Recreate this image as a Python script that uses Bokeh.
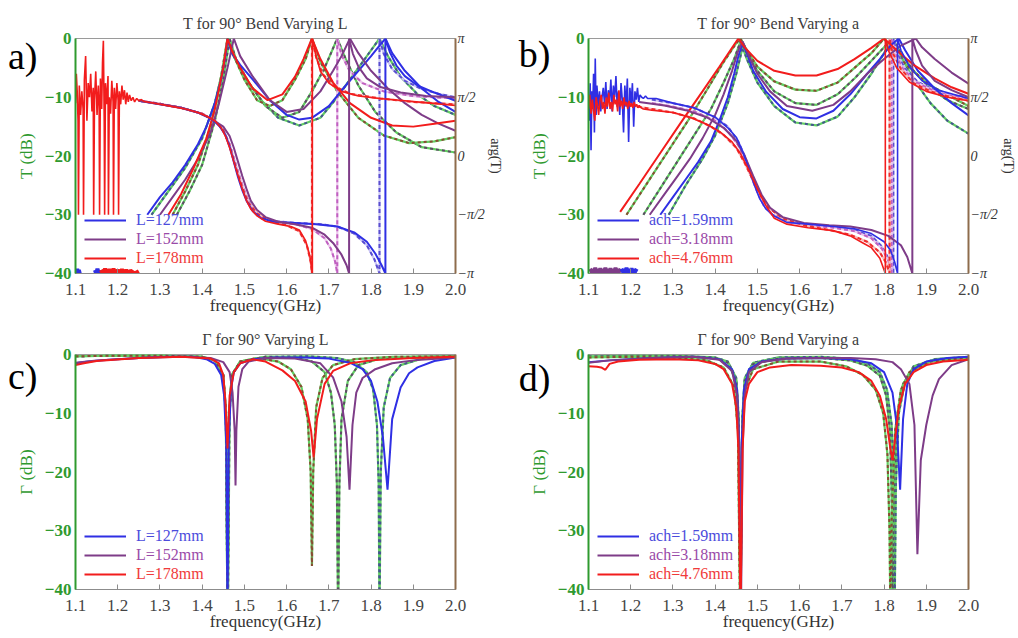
from bokeh.plotting import figure
from bokeh.models import Range1d, LinearAxis, FixedTicker, Legend, LegendItem
from bokeh.layouts import column, row
from bokeh.embed import file_html
from bokeh.resources import INLINE

# ----------------------------------------------------------------- axes / labels
X_TICKS = [1.1, 1.2, 1.3, 1.4, 1.5, 1.6, 1.7, 1.8, 1.9, 2.0]
X_TICK_LABELS = ["1.1", "1.2", "1.3", "1.4", "1.5", "1.6", "1.7", "1.8", "1.9", "2.0"]
DB_TICKS = [-40, -30, -20, -10, 0]
DB_TICK_LABELS = ["\u221240", "\u221230", "\u221220", "\u221210", "0"]
PHASE_TICKS = [-1.0, -0.5, 0.0, 0.5, 1.0]          # in units of pi
PHASE_TICK_LABELS = ["\u2212\u03c0", "\u2212\u03c0/2", "0", "\u03c0/2", "\u03c0"]

TITLES = ["T for 90\u00b0 Bend Varying L", "T for 90\u00b0 Bend Varying a",
          "\u0393 for 90\u00b0 Varying L", "\u0393 for 90\u00b0 Bend Varying a"]
PANEL_TAGS = ["a)", "b)", "c)", "d)"]
LEGEND_L = ["L=127mm", "L=152mm", "L=178mm"]
LEGEND_A = ["ach=1.59mm", "ach=3.18mm", "ach=4.76mm"]

# ----------------------------------------------------------------- panel a : |T| (dB), varying L
A_T127 = [(1.27,-30),(1.30,-27),(1.33,-24.5),(1.36,-21.5),(1.39,-18),(1.41,-15),(1.43,-11),(1.445,-7),
          (1.455,-3),(1.46,0),(1.47,-2.5),(1.49,-4.5),(1.52,-7),(1.56,-10.5),(1.60,-13),(1.63,-13.8),
          (1.66,-13.5),(1.70,-11.5),(1.74,-8),(1.77,-5.5),(1.80,-3),(1.82,-1.2),(1.834,0),(1.85,-2.5),
          (1.88,-5.5),(1.92,-8.5),(1.96,-10.8),(2.0,-12.5)]
A_T152 = [(1.30,-30),(1.33,-27),(1.36,-24),(1.39,-20.5),(1.42,-16),(1.44,-11),(1.46,-5),(1.475,0),
          (1.49,-3),(1.52,-6.5),(1.56,-10.5),(1.60,-12.5),(1.64,-12),(1.68,-9),(1.71,-5.5),(1.73,-3),
          (1.75,0),(1.77,-2.5),(1.80,-5.5),(1.84,-8.5),(1.88,-11),(1.92,-13),(1.96,-14.5),(2.0,-15.7)]
A_T178 = [(1.32,-30),(1.35,-26.5),(1.38,-22),(1.41,-17),(1.43,-12),(1.45,-5),(1.46,0),(1.47,-2),
          (1.49,-5),(1.52,-8.5),(1.555,-10.5),(1.59,-9.5),(1.62,-6.5),(1.64,-3.5),(1.66,0),(1.68,-3.5),
          (1.71,-7.5),(1.75,-11),(1.80,-13.5),(1.85,-14.8),(1.90,-15),(1.95,-14.5),(2.0,-14)]
A_M127 = [(1.28,-30),(1.32,-26),(1.36,-22),(1.40,-17),(1.43,-11),(1.45,-5),(1.462,0),(1.475,-3),
          (1.50,-6.5),(1.54,-10.5),(1.58,-13.5),(1.63,-14.8),(1.68,-13.5),(1.72,-10),(1.76,-6),
          (1.79,-3),(1.82,0),(1.84,-3),(1.87,-6.5),(1.91,-9.5),(1.95,-11.5),(2.0,-13)]
A_M152 = [(1.34,-30),(1.37,-26),(1.40,-21.5),(1.43,-14),(1.45,-7),(1.465,0),(1.48,-3.5),(1.51,-7.5),
          (1.55,-11.5),(1.59,-13.5),(1.63,-12.5),(1.66,-9),(1.69,-5),(1.72,0),(1.74,-3.5),(1.77,-8),
          (1.81,-12.5),(1.86,-16),(1.92,-18.5),(2.0,-19.4)]
A_M178 = [(1.33,-30),(1.36,-26),(1.39,-21.5),(1.42,-15),(1.44,-8.5),(1.46,0),(1.475,-3),(1.50,-7),
          (1.53,-10.5),(1.56,-11.5),(1.59,-10.5),(1.62,-7),(1.645,-3.5),(1.66,0),(1.68,-4),(1.72,-9),
          (1.77,-13.5),(1.83,-16.5),(1.89,-17.8),(1.95,-17.5),(2.0,-16.8)]
# panel a : arg(T) in units of pi (measured, with noisy low-frequency part)
A_P178 = [(1.100,0.45),(1.102,0.70),(1.104,0.55),(1.106,0.30),(1.107,-0.50),(1.109,0.60),(1.112,0.35),
          (1.115,0.55),(1.118,0.40),(1.119,-0.50),(1.121,0.65),(1.124,0.85),(1.127,0.30),(1.130,0.62),
          (1.133,0.50),(1.136,0.70),(1.139,0.38),(1.142,0.58),(1.143,-0.50),(1.145,0.48),(1.148,0.72),
          (1.151,0.35),(1.154,0.60),(1.156,0.42),(1.157,-0.50),(1.159,0.66),(1.162,0.40),(1.164,0.80),
          (1.166,0.98),(1.168,0.30),(1.169,-0.50),(1.171,0.62),(1.174,0.44),(1.177,0.68),(1.178,-0.50),
          (1.180,0.50),(1.183,0.36),(1.186,0.64),(1.189,0.46),(1.190,-0.50),(1.192,0.58),(1.195,0.40),
          (1.198,0.62),(1.201,0.47),(1.202,-0.50),(1.204,0.55),(1.207,0.44),(1.210,0.60),(1.213,0.48),
          (1.216,0.56),(1.219,0.44),(1.222,0.54),(1.225,0.46),(1.228,0.52),(1.232,0.47),(1.236,0.50),
          (1.240,0.46),(1.245,0.49),(1.250,0.47),(1.256,0.48),(1.262,0.465),(1.270,0.46),(1.30,0.44),
          (1.33,0.42),(1.36,0.40),(1.39,0.37),(1.41,0.34),(1.43,0.30),(1.445,0.24),(1.455,0.17),
          (1.465,0.07),(1.475,-0.05),(1.485,-0.17),(1.495,-0.28),(1.505,-0.38),(1.515,-0.45),
          (1.53,-0.51),(1.55,-0.555),(1.58,-0.58),(1.61,-0.60),(1.63,-0.63),(1.645,-0.72),(1.655,-0.85),
          (1.661,-1.0),(1.661,1.0),(1.67,0.85),(1.68,0.72),(1.70,0.62),(1.73,0.55),(1.77,0.51),
          (1.82,0.49),(1.88,0.47),(1.94,0.45),(2.0,0.43)]
A_P127 = [(1.25,0.47),(1.30,0.44),(1.35,0.41),(1.39,0.37),(1.42,0.32),(1.44,0.26),(1.455,0.18),
          (1.465,0.08),(1.475,-0.05),(1.485,-0.18),(1.495,-0.29),(1.505,-0.38),(1.52,-0.47),(1.54,-0.53),
          (1.57,-0.56),(1.62,-0.57),(1.67,-0.58),(1.72,-0.60),(1.76,-0.65),(1.79,-0.73),(1.81,-0.83),
          (1.825,-0.93),(1.834,-1.0),(1.834,1.0),(1.845,0.88),(1.86,0.77),(1.88,0.68),(1.91,0.60),
          (1.95,0.54),(2.0,0.47)]
A_P152 = [(1.25,0.47),(1.30,0.44),(1.35,0.41),(1.39,0.37),(1.42,0.32),(1.45,0.25),(1.465,0.17),
          (1.475,0.07),(1.485,-0.05),(1.495,-0.17),(1.505,-0.28),(1.515,-0.38),(1.53,-0.46),(1.55,-0.52),
          (1.58,-0.56),(1.62,-0.58),(1.66,-0.61),(1.69,-0.67),(1.71,-0.74),(1.73,-0.84),(1.742,-0.93),
          (1.748,-1.0),(1.748,1.0),(1.757,0.87),(1.77,0.76),(1.79,0.66),(1.82,0.59),(1.87,0.54),
          (1.93,0.51),(2.0,0.50)]
A_Q178 = [(1.25,0.47),(1.30,0.445),(1.35,0.41),(1.40,0.36),(1.43,0.30),(1.45,0.22),(1.465,0.09),
          (1.48,-0.10),(1.495,-0.27),(1.51,-0.40),(1.53,-0.49),(1.56,-0.55),(1.60,-0.59),(1.63,-0.64),
          (1.648,-0.76),(1.657,-0.90),(1.66,-1.0),(1.66,1.0),(1.67,0.84),(1.685,0.70),(1.71,0.60),
          (1.75,0.53),(1.82,0.49),(1.90,0.46),(2.0,0.44)]
A_Q152 = [(1.25,0.47),(1.30,0.445),(1.35,0.41),(1.40,0.36),(1.43,0.30),(1.45,0.22),(1.465,0.10),
          (1.48,-0.08),(1.495,-0.25),(1.51,-0.39),(1.53,-0.49),(1.56,-0.55),(1.62,-0.58),(1.66,-0.62),
          (1.69,-0.70),(1.705,-0.79),(1.715,-0.90),(1.72,-1.0),(1.72,1.0),(1.73,0.86),(1.75,0.72),
          (1.78,0.62),(1.83,0.55),(1.90,0.51),(2.0,0.49)]
A_Q127 = [(1.25,0.47),(1.30,0.445),(1.35,0.41),(1.40,0.36),(1.43,0.30),(1.45,0.22),(1.465,0.10),
          (1.48,-0.08),(1.495,-0.25),(1.51,-0.39),(1.53,-0.49),(1.56,-0.55),(1.62,-0.57),(1.68,-0.58),
          (1.72,-0.60),(1.76,-0.66),(1.79,-0.76),(1.808,-0.88),(1.82,-1.0),(1.82,1.0),(1.83,0.87),
          (1.85,0.74),(1.88,0.64),(1.92,0.57),(1.96,0.53),(2.0,0.50)]
A_FLOOR_BLUE1 = [(1.100,-0.97),(1.102,-1.0),(1.104,-0.96),(1.106,-1.0),(1.108,-0.97),(1.110,-1.0)]
A_FLOOR_BLUE2 = [(1.146,-0.97),(1.149,-1.0),(1.152,-0.96),(1.155,-1.0),(1.158,-0.97)]
A_FLOOR_RED = [(1.160,-0.97),(1.165,-1.0),(1.170,-0.96),(1.175,-1.0),(1.180,-0.965),(1.185,-1.0),
               (1.190,-0.96),(1.195,-1.0),(1.200,-0.97),(1.205,-1.0),(1.210,-0.965),(1.215,-1.0),
               (1.220,-0.97),(1.225,-1.0),(1.230,-0.975),(1.240,-1.0),(1.250,-0.98)]

# ----------------------------------------------------------------- panel b : |T| (dB), varying a
B_T159 = [(1.27,-30),(1.30,-27),(1.33,-24),(1.36,-21),(1.39,-17.5),(1.41,-14),(1.43,-10),(1.445,-6),
          (1.455,-3),(1.465,-0.8),(1.475,-2.5),(1.49,-5.5),(1.52,-9),(1.56,-12),(1.60,-13.4),(1.64,-13.6),
          (1.68,-12.3),(1.72,-9.5),(1.76,-6),(1.79,-3.5),(1.815,-1.2),(1.835,0),(1.85,-2),(1.88,-5.5),
          (1.92,-8.5),(1.96,-11),(2.0,-13.1)]
B_T318 = [(1.245,-30),(1.28,-26.5),(1.31,-23.5),(1.34,-20.5),(1.37,-17),(1.40,-13),(1.42,-9.5),
          (1.44,-5.5),(1.455,-2),(1.465,-0.5),(1.48,-3),(1.50,-6),(1.53,-9),(1.57,-11.5),(1.63,-12.3),
          (1.68,-11.3),(1.72,-9),(1.76,-6),(1.80,-3.5),(1.84,-1.2),(1.875,0),(1.89,-1.5),(1.92,-3.5),
          (1.96,-5.8),(2.0,-7.7)]
B_T476 = [(1.175,-29.5),(1.22,-24.8),(1.27,-19.5),(1.32,-14.2),(1.37,-9),(1.41,-4.8),(1.44,-1.6),
          (1.455,0),(1.47,-1.5),(1.50,-3.8),(1.54,-5.5),(1.59,-6.3),(1.64,-6.3),(1.69,-5.2),(1.73,-3.5),
          (1.77,-1.6),(1.80,0),(1.83,-2),(1.87,-4.5),(1.92,-6.8),(1.96,-8.3),(2.0,-9.4)]
B_M159 = [(1.29,-30),(1.33,-25),(1.37,-20.5),(1.40,-16.5),(1.43,-11),(1.45,-6),(1.465,-1.5),
          (1.475,-3.5),(1.50,-7.5),(1.54,-11.5),(1.59,-14.3),(1.64,-14.8),(1.69,-13.3),(1.73,-10),
          (1.77,-6),(1.80,-2.5),(1.82,0),(1.84,-3),(1.87,-7),(1.91,-11),(1.95,-14),(2.0,-16.2)]
B_M318 = [(1.23,-30),(1.27,-25.5),(1.31,-21),(1.35,-16.5),(1.39,-12),(1.42,-7.5),(1.445,-3.5),
          (1.46,-0.5),(1.475,-2.5),(1.50,-5.5),(1.54,-9),(1.59,-11),(1.64,-11.3),(1.69,-9.5),
          (1.73,-6.8),(1.77,-3.8),(1.80,-1.5),(1.82,0),(1.84,-2.5),(1.87,-5.5),(1.91,-8.5),
          (1.95,-10.5),(2.0,-12)]
B_M476 = [(1.19,-30),(1.24,-24.5),(1.29,-19),(1.34,-13.5),(1.38,-8.8),(1.42,-4),(1.45,-0.8),(1.46,0),
          (1.475,-2),(1.50,-4.8),(1.54,-7.3),(1.59,-8.7),(1.64,-8.9),(1.69,-7.5),(1.73,-5),(1.77,-2.5),
          (1.80,0),(1.82,-2),(1.86,-5),(1.91,-8),(1.96,-10),(2.0,-11.5)]
B_P159 = [(1.100,0.45),(1.102,0.30),(1.104,0.62),(1.106,0.05),(1.108,0.55),(1.110,0.40),(1.112,0.70),
          (1.114,0.20),(1.116,0.83),(1.118,0.35),(1.120,0.60),(1.123,0.42),(1.126,0.55),(1.129,0.38),
          (1.132,0.50),(1.135,0.58),(1.138,0.44),(1.141,0.63),(1.144,0.40),(1.147,0.56),(1.150,0.47),
          (1.153,0.65),(1.156,0.38),(1.159,0.60),(1.162,0.50),(1.165,0.68),(1.168,0.42),(1.171,0.55),
          (1.174,0.35),(1.177,0.62),(1.180,0.48),(1.183,0.20),(1.186,0.60),(1.189,0.42),(1.192,0.66),
          (1.195,0.12),(1.198,0.58),(1.201,0.45),(1.204,0.62),(1.207,0.25),(1.210,0.55),(1.213,0.48),
          (1.216,0.58),(1.219,0.46),(1.222,0.52),(1.226,0.50),(1.230,0.49),(1.235,0.51),(1.240,0.49),
          (1.26,0.49),(1.30,0.45),(1.35,0.41),(1.40,0.33),(1.43,0.24),(1.45,0.16),(1.465,0.04),
          (1.475,-0.06),(1.49,-0.22),(1.505,-0.36),(1.52,-0.45),(1.54,-0.51),(1.57,-0.565),(1.62,-0.58),
          (1.68,-0.60),(1.73,-0.62),(1.77,-0.66),(1.80,-0.73),(1.815,-0.80),(1.825,-0.90),(1.832,-1.0),
          (1.832,1.0),(1.84,0.90),(1.86,0.76),(1.89,0.64),(1.93,0.56),(1.97,0.52),(2.0,0.49)]
B_P476 = [(1.100,0.40),(1.103,0.52),(1.106,0.36),(1.109,0.48),(1.112,0.38),(1.115,0.30),(1.118,0.50),
          (1.121,0.44),(1.124,0.35),(1.127,0.47),(1.130,0.52),(1.133,0.40),(1.136,0.46),(1.139,0.36),
          (1.142,0.50),(1.145,0.42),(1.148,0.54),(1.151,0.40),(1.154,0.46),(1.157,0.38),(1.160,0.52),
          (1.163,0.44),(1.166,0.48),(1.169,0.38),(1.172,0.56),(1.175,0.42),(1.178,0.47),(1.181,0.40),
          (1.184,0.50),(1.187,0.43),(1.190,0.46),(1.193,0.40),(1.196,0.47),(1.199,0.42),(1.202,0.45),
          (1.205,0.41),(1.208,0.46),(1.211,0.42),(1.214,0.44),(1.217,0.41),(1.220,0.43),(1.225,0.41),
          (1.230,0.40),(1.25,0.39),(1.30,0.37),(1.34,0.33),(1.38,0.27),(1.41,0.21),(1.44,0.12),
          (1.46,0.02),(1.48,-0.12),(1.50,-0.28),(1.52,-0.42),(1.54,-0.53),(1.57,-0.58),(1.62,-0.61),
          (1.68,-0.635),(1.72,-0.68),(1.75,-0.74),(1.77,-0.78),(1.79,-0.87),(1.803,-1.0),(1.803,1.0),
          (1.81,0.90),(1.83,0.75),(1.86,0.63),(1.90,0.55),(1.95,0.50),(2.0,0.47)]
B_P318 = [(1.22,0.46),(1.28,0.43),(1.33,0.39),(1.38,0.33),(1.42,0.24),(1.45,0.13),(1.47,0.0),
          (1.49,-0.17),(1.51,-0.33),(1.53,-0.44),(1.56,-0.52),(1.61,-0.57),(1.67,-0.59),(1.72,-0.60),
          (1.77,-0.63),(1.81,-0.68),(1.84,-0.76),(1.855,-0.86),(1.867,-1.0),(1.867,1.0),(1.875,0.90),
          (1.89,0.77),(1.92,0.64),(1.96,0.56),(2.0,0.50)]
B_Q159 = [(1.25,0.48),(1.30,0.45),(1.35,0.41),(1.40,0.33),(1.43,0.25),(1.455,0.12),(1.47,0.0),
          (1.485,-0.15),(1.50,-0.30),(1.515,-0.42),(1.535,-0.50),(1.57,-0.56),(1.62,-0.58),(1.68,-0.60),
          (1.73,-0.63),(1.77,-0.68),(1.795,-0.77),(1.81,-0.87),(1.822,-1.0),(1.822,1.0),(1.83,0.88),
          (1.85,0.74),(1.88,0.63),(1.92,0.56),(1.96,0.52),(2.0,0.50)]
B_Q318 = [(1.25,0.45),(1.30,0.42),(1.35,0.38),(1.40,0.30),(1.43,0.21),(1.455,0.09),(1.47,-0.03),
          (1.485,-0.17),(1.50,-0.31),(1.515,-0.42),(1.535,-0.50),(1.57,-0.56),(1.62,-0.59),(1.68,-0.61),
          (1.73,-0.64),(1.77,-0.70),(1.795,-0.79),(1.81,-0.89),(1.818,-1.0),(1.818,1.0),(1.826,0.88),
          (1.845,0.74),(1.875,0.63),(1.92,0.55),(1.96,0.51),(2.0,0.49)]
B_Q476 = [(1.20,0.43),(1.25,0.40),(1.30,0.37),(1.35,0.32),(1.39,0.25),(1.42,0.18),(1.45,0.07),
          (1.47,-0.06),(1.49,-0.21),(1.51,-0.35),(1.53,-0.45),(1.56,-0.53),(1.61,-0.59),(1.67,-0.63),
          (1.72,-0.67),(1.76,-0.73),(1.79,-0.82),(1.805,-0.91),(1.813,-1.0),(1.813,1.0),(1.82,0.88),
          (1.84,0.74),(1.87,0.62),(1.91,0.55),(1.96,0.50),(2.0,0.47)]
B_FLOOR_PURPLE = [(1.104,-0.96),(1.110,-1.0),(1.116,-0.955),(1.122,-1.0),(1.128,-0.96),(1.134,-1.0),
                  (1.140,-0.955),(1.146,-1.0),(1.152,-0.96),(1.158,-1.0),(1.164,-0.955),(1.170,-1.0),
                  (1.176,-0.96)]
B_FLOOR_BLUE = [(1.178,-0.96),(1.184,-1.0),(1.190,-0.955),(1.196,-1.0),(1.202,-0.96),(1.208,-1.0),
                (1.214,-0.96)]

# ----------------------------------------------------------------- panel c : Gamma (dB), varying L
C_G127 = [(1.10,-1.5),(1.13,-1.2),(1.18,-0.9),(1.25,-0.6),(1.32,-0.4),(1.38,-0.4),(1.41,-0.8),
          (1.43,-1.6),(1.445,-3.5),(1.452,-7),(1.457,-15),(1.460,-45),(1.463,-15),(1.468,-6),
          (1.475,-3),(1.49,-1.5),(1.52,-0.8),(1.57,-0.5),(1.64,-0.5),(1.70,-0.7),(1.75,-1.4),
          (1.78,-2.5),(1.80,-4.5),(1.815,-8),(1.828,-14),(1.839,-23),(1.85,-11),(1.87,-5.6),
          (1.89,-3.2),(1.91,-2.2),(1.95,-1.1),(2.0,-0.5)]
C_G152 = [(1.10,-1.4),(1.15,-1.0),(1.25,-0.6),(1.35,-0.4),(1.42,-0.6),(1.45,-1.3),(1.465,-3),
          (1.472,-6.5),(1.477,-13),(1.479,-22.3),(1.481,-13),(1.486,-5.5),(1.495,-2.5),(1.51,-1.2),
          (1.55,-0.6),(1.62,-0.7),(1.68,-1.5),(1.71,-3.9),(1.73,-8),(1.742,-14),(1.749,-23),
          (1.756,-12),(1.765,-6.5),(1.78,-4),(1.81,-2.5),(1.85,-1.5),(1.90,-1.0),(2.0,-0.5)]
C_G178 = [(1.10,-1.8),(1.12,-1.5),(1.15,-1.1),(1.25,-0.6),(1.35,-0.4),(1.42,-0.7),(1.44,-1.5),
          (1.45,-3.5),(1.455,-8),(1.46,-16),(1.465,-7),(1.475,-3),(1.49,-1.5),(1.52,-0.8),(1.55,-1.2),
          (1.59,-2.7),(1.62,-4.5),(1.645,-8),(1.658,-13),(1.664,-17.5),(1.672,-11),(1.69,-5),
          (1.71,-2.8),(1.75,-1.5),(1.80,-1.0),(1.90,-0.6),(2.0,-0.4)]
C_M127 = [(1.10,-0.3),(1.20,-0.2),(1.30,-0.2),(1.40,-0.4),(1.43,-1),(1.45,-3.5),(1.456,-10),
          (1.460,-45),(1.464,-10),(1.47,-3.5),(1.49,-1.2),(1.55,-0.4),(1.65,-0.3),(1.72,-0.6),
          (1.76,-1.3),(1.79,-3),(1.805,-6),(1.814,-12),(1.818,-22),(1.820,-45),(1.823,-20),(1.83,-9),
          (1.845,-4),(1.87,-1.8),(1.92,-0.7),(2.0,-0.3)]
C_M152 = [(1.10,-0.3),(1.20,-0.2),(1.30,-0.2),(1.40,-0.4),(1.43,-1),(1.45,-3.5),(1.457,-10),
          (1.461,-45),(1.465,-10),(1.471,-3.5),(1.49,-1.2),(1.55,-0.4),(1.62,-0.5),(1.66,-1.2),
          (1.69,-3),(1.705,-6.5),(1.714,-12),(1.719,-22),(1.722,-45),(1.725,-22),(1.73,-11),
          (1.745,-4.5),(1.77,-1.8),(1.82,-0.7),(1.90,-0.4),(2.0,-0.3)]
C_M178 = [(1.10,-0.3),(1.20,-0.2),(1.30,-0.2),(1.40,-0.4),(1.43,-1),(1.45,-3.5),(1.456,-10),
          (1.460,-45),(1.464,-10),(1.47,-3.5),(1.49,-1.2),(1.53,-0.6),(1.58,-1.2),(1.61,-2.5),
          (1.635,-5.5),(1.65,-11),(1.657,-20),(1.660,-36),(1.663,-20),(1.67,-9),(1.685,-4),(1.71,-1.8),
          (1.76,-0.8),(1.85,-0.4),(2.0,-0.3)]

# ----------------------------------------------------------------- panel d : Gamma (dB), varying a
D_G159 = [(1.10,-1.3),(1.15,-1.0),(1.25,-0.6),(1.35,-0.4),(1.41,-0.8),(1.44,-2.5),(1.452,-6),
          (1.457,-15),(1.460,-45),(1.463,-15),(1.468,-6),(1.48,-2.5),(1.51,-1.2),(1.57,-0.7),
          (1.65,-0.6),(1.72,-0.8),(1.77,-1.5),(1.80,-3),(1.82,-6.5),(1.83,-12),(1.838,-23),(1.845,-11),
          (1.855,-5),(1.87,-2.5),(1.90,-1.2),(1.95,-0.6),(2.0,-0.4)]
D_G318 = [(1.10,-1.4),(1.15,-1.0),(1.25,-0.6),(1.35,-0.4),(1.41,-0.9),(1.44,-2.8),(1.452,-7),
          (1.457,-16),(1.461,-45),(1.465,-16),(1.47,-7),(1.48,-3),(1.51,-1.3),(1.57,-0.7),(1.65,-0.6),
          (1.72,-0.6),(1.78,-0.8),(1.82,-1.3),(1.84,-2.5),(1.86,-5),(1.872,-12),(1.879,-34),
          (1.887,-18),(1.90,-12),(1.915,-7),(1.93,-4.2),(1.96,-1.8),(2.0,-0.8)]
D_G476 = [(1.10,-2.0),(1.12,-2.1),(1.13,-2.2),(1.14,-2.6),(1.15,-1.6),(1.17,-1.2),(1.22,-0.9),
          (1.30,-0.8),(1.36,-1.0),(1.40,-1.6),(1.42,-2.5),(1.44,-5),(1.45,-9),(1.455,-16),(1.460,-45),
          (1.465,-16),(1.47,-8),(1.48,-5),(1.50,-3),(1.53,-2.2),(1.58,-1.8),(1.65,-1.9),(1.70,-2.2),
          (1.74,-3),(1.77,-4.5),(1.79,-7),(1.805,-11),(1.815,-16),(1.82,-18),(1.825,-15),(1.835,-9),
          (1.85,-5),(1.87,-3),(1.90,-1.8),(1.94,-1.2),(2.0,-0.9)]
D_M159 = [(1.10,-0.3),(1.20,-0.2),(1.30,-0.2),(1.40,-0.5),(1.43,-1.2),(1.45,-4),(1.456,-11),
          (1.460,-45),(1.464,-11),(1.47,-4),(1.49,-1.4),(1.55,-0.5),(1.65,-0.4),(1.72,-0.7),(1.76,-1.5),
          (1.79,-3),(1.807,-6),(1.818,-12),(1.823,-22),(1.825,-45),(1.828,-22),(1.835,-10),(1.85,-4.5),
          (1.87,-2),(1.92,-0.8),(2.0,-0.4)]
D_M318 = [(1.10,-0.4),(1.20,-0.3),(1.30,-0.3),(1.40,-0.6),(1.43,-1.4),(1.45,-4.5),(1.456,-12),
          (1.460,-45),(1.464,-12),(1.47,-4.5),(1.49,-1.6),(1.55,-0.7),(1.65,-0.6),(1.72,-1.0),
          (1.76,-1.9),(1.79,-3.6),(1.805,-7),(1.814,-13),(1.818,-24),(1.820,-45),(1.823,-24),
          (1.83,-11),(1.845,-5),(1.87,-2.3),(1.92,-0.9),(2.0,-0.5)]
D_M476 = [(1.10,-0.5),(1.20,-0.4),(1.30,-0.5),(1.38,-1.0),(1.42,-2.2),(1.445,-5.5),(1.454,-13),
          (1.459,-45),(1.464,-13),(1.47,-6),(1.49,-2.5),(1.55,-1.2),(1.65,-1.2),(1.71,-2.0),
          (1.75,-3.5),(1.78,-6),(1.798,-10),(1.808,-17),(1.813,-30),(1.815,-45),(1.818,-28),
          (1.826,-13),(1.84,-6),(1.86,-3),(1.91,-1.2),(2.0,-0.5)]

# ----------------------------------------------------------------- styling
SERIF = "Liberation Serif"
BLUE, PURPLE, RED = "#2f2fe4", "#7e3c88", "#f21c1c"
BLUE_TXT, PURPLE_TXT, RED_TXT = "#4b4bdc", "#9a4aa8", "#f03a3a"
DARK = {"b": "#45558f", "p": "#5e4a66", "r": "#8a4a32"}
MODEL_GREEN = "#62cf62"
PH_LIGHT = {"b": "#c9c4f4", "p": "#ecc6ec", "r": "#f8b9b9"}
PH_COLOR = {"b": "#5a4ed0", "p": "#c060c0", "r": "#ee2e2e"}
AXIS_GREEN = "#2f9a2f"
LABEL_GREEN_BG = "#c4f4c4"
PEACH_BG = "#fbd7b4"
BROWN = "#8e6c4c"


def unzip(pairs):
    return [a for a, _ in pairs], [b for _, b in pairs]


def set_if(model, **kw):
    props = model.properties()
    for k, v in kw.items():
        if k in props:
            setattr(model, k, v)


def make_panel(title, ylabel, tag, tag_y, border_l, border_r, border_t, border_b, phase):
    p = figure(frame_width=380, frame_height=235, x_range=Range1d(1.1, 2.0), y_range=Range1d(-40, 0),
               output_backend="svg", toolbar_location=None,
               min_border_left=border_l, min_border_right=border_r,
               min_border_top=border_t, min_border_bottom=border_b)
    p.title.text = title
    p.title.align = "center"
    p.title.text_font = SERIF
    p.title.text_font_size = "16px"
    p.title.text_font_style = "normal"
    p.title.text_color = "#3c3c3c"
    set_if(p.title, standoff=14)
    p.grid.visible = False
    p.outline_line_color = "#9a9a9a"
    p.background_fill_color = "white"
    p.border_fill_color = "white"

    xa = p.xaxis[0]
    xa.ticker = FixedTicker(ticks=X_TICKS)
    xa.major_label_overrides = dict(zip(X_TICKS, X_TICK_LABELS))
    xa.axis_label = "frequency(GHz)"
    xa.axis_label_text_font = SERIF
    xa.axis_label_text_font_size = "17px"
    xa.axis_label_text_font_style = "normal"
    xa.axis_label_text_color = "#333333"
    xa.axis_label_standoff = -2
    xa.major_label_text_font = SERIF
    xa.major_label_text_font_size = "17px"
    xa.major_label_text_color = "#444444"
    xa.major_label_standoff = 10
    xa.axis_line_color = "#8c8c8c"
    xa.major_tick_in = 5
    xa.major_tick_out = 0
    xa.major_tick_line_color = "#8c8c8c"
    xa.minor_tick_line_color = None

    ya = p.yaxis[0]
    ya.ticker = FixedTicker(ticks=DB_TICKS)
    ya.major_label_overrides = dict(zip(DB_TICKS, DB_TICK_LABELS))
    ya.axis_label = ylabel
    ya.axis_label_text_font = SERIF
    ya.axis_label_text_font_size = "17px"
    ya.axis_label_text_font_style = "normal"
    ya.axis_label_text_color = AXIS_GREEN
    ya.axis_label_standoff = 6
    ya.major_label_text_font = SERIF
    ya.major_label_text_font_size = "17px"
    ya.major_label_text_font_style = "bold"
    ya.major_label_text_color = AXIS_GREEN
    ya.major_label_standoff = 4
    ya.axis_line_color = AXIS_GREEN
    ya.axis_line_width = 2
    ya.major_tick_in = 0
    ya.major_tick_out = 0
    ya.minor_tick_line_color = None
    set_if(ya, major_label_background_fill_color=LABEL_GREEN_BG,
           axis_label_background_fill_color=LABEL_GREEN_BG)

    # panel tag "a)" etc. drawn as the single label of an outer, line-less left axis
    ta = LinearAxis(ticker=FixedTicker(ticks=[tag_y]), major_label_overrides={tag_y: tag})
    ta.major_label_text_font = SERIF
    ta.major_label_text_font_size = "38px"
    ta.major_label_text_color = "black"
    ta.major_label_standoff = -30
    ta.axis_line_color = None
    ta.major_tick_line_color = None
    ta.minor_tick_line_color = None
    p.add_layout(ta, "left")

    if phase:
        p.extra_y_ranges = {"phase": Range1d(-1, 1)}
        ra = LinearAxis(y_range_name="phase", ticker=FixedTicker(ticks=PHASE_TICKS),
                        major_label_overrides=dict(zip(PHASE_TICKS, PHASE_TICK_LABELS)),
                        axis_label="arg(T)")
        ra.axis_label_text_font = SERIF
        ra.axis_label_text_font_size = "14px"
        ra.axis_label_text_font_style = "normal"
        ra.axis_label_text_color = "#333333"
        ra.axis_label_standoff = 0
        ra.major_label_text_font = SERIF
        ra.major_label_text_font_size = "14px"
        ra.major_label_text_font_style = "italic"
        ra.major_label_text_color = "#333333"
        ra.major_label_standoff = 2
        ra.major_tick_in = 0
        ra.major_tick_out = 0
        ra.minor_tick_line_color = None
        ra.axis_line_color = BROWN
        ra.axis_line_width = 2
        set_if(ra, major_label_background_fill_color=PEACH_BG,
               axis_label_background_fill_color=PEACH_BG)
        p.add_layout(ra, "right")
    else:
        ra = LinearAxis(ticker=FixedTicker(ticks=[]), major_label_text_font_size="0px")
        ra.axis_line_color = BROWN
        ra.axis_line_width = 2
        ra.major_tick_in = 0
        ra.major_tick_out = 0
        ra.minor_tick_line_color = None
        p.add_layout(ra, "right")
    return p


def meas(p, pairs, color, rng="default", width=2.0):
    f, v = unzip(pairs)
    return p.line(f, v, line_color=color, line_width=width, y_range_name=rng)


def model(p, pairs, key):
    f, v = unzip(pairs)
    p.line(f, v, line_color=MODEL_GREEN, line_width=2.2)
    p.line(f, v, line_color=DARK[key], line_width=2.0, line_dash="3 3")


def model_phase(p, pairs, key):
    f, v = unzip(pairs)
    p.line(f, v, line_color=PH_LIGHT[key], line_width=2.2, y_range_name="phase")
    p.line(f, v, line_color=PH_COLOR[key], line_width=2.0, line_dash="4 3", y_range_name="phase")


def legend(p, renderers, labels, colors):
    rows_bottom = [44, 25, 6]
    for r, lab, col, yb in zip(renderers, labels, colors, rows_bottom):
        lg = Legend(items=[LegendItem(label=lab, renderers=[r])], location=(9, yb),
                    background_fill_alpha=0, border_line_alpha=0,
                    label_text_font=SERIF, label_text_font_size="16px", label_text_color=col,
                    glyph_width=42, glyph_height=16, label_height=16, padding=0, margin=0,
                    spacing=0, label_standoff=10)
        p.add_layout(lg)


# ----------------------------------------------------------------- panel a
pa = make_panel(TITLES[0], "T (dB)", PANEL_TAGS[0], -3.0, 75, 54, 38, 47, True)
model(pa, A_M127, "b"); model(pa, A_M152, "p"); model(pa, A_M178, "r")
model_phase(pa, A_Q127, "b"); model_phase(pa, A_Q152, "p"); model_phase(pa, A_Q178, "r")
ra1 = meas(pa, A_T127, BLUE); ra2 = meas(pa, A_T152, PURPLE); ra3 = meas(pa, A_T178, RED)
meas(pa, A_P127, BLUE, "phase"); meas(pa, A_P152, PURPLE, "phase"); meas(pa, A_P178, RED, "phase", 1.6)
meas(pa, A_FLOOR_BLUE1, BLUE, "phase", 4); meas(pa, A_FLOOR_BLUE2, BLUE, "phase", 4)
meas(pa, A_FLOOR_RED, RED, "phase", 4)
legend(pa, [ra1, ra2, ra3], LEGEND_L, [BLUE_TXT, PURPLE_TXT, RED_TXT])

# ----------------------------------------------------------------- panel b
pb = make_panel(TITLES[1], "T (dB)", PANEL_TAGS[1], -2.7, 79, 44, 38, 47, True)
model(pb, B_M159, "b"); model(pb, B_M318, "p"); model(pb, B_M476, "r")
model_phase(pb, B_Q159, "b"); model_phase(pb, B_Q318, "p"); model_phase(pb, B_Q476, "r")
rb1 = meas(pb, B_T159, BLUE); rb2 = meas(pb, B_T318, PURPLE); rb3 = meas(pb, B_T476, RED)
meas(pb, B_P318, PURPLE, "phase"); meas(pb, B_P159, BLUE, "phase", 1.6); meas(pb, B_P476, RED, "phase", 1.6)
meas(pb, B_FLOOR_PURPLE, PURPLE, "phase", 4); meas(pb, B_FLOOR_BLUE, BLUE, "phase", 4)
legend(pb, [rb1, rb2, rb3], LEGEND_A, [BLUE_TXT, PURPLE_TXT, RED_TXT])

# ----------------------------------------------------------------- panel c
pc = make_panel(TITLES[2], "\u0393 (dB)", PANEL_TAGS[2], -3.7, 75, 54, 34, 49, False)
model(pc, C_M127, "b"); model(pc, C_M152, "p"); model(pc, C_M178, "r")
rc1 = meas(pc, C_G127, BLUE); rc2 = meas(pc, C_G152, PURPLE); rc3 = meas(pc, C_G178, RED)
legend(pc, [rc1, rc2, rc3], LEGEND_L, [BLUE_TXT, PURPLE_TXT, RED_TXT])

# ----------------------------------------------------------------- panel d
pd_ = make_panel(TITLES[3], "\u0393 (dB)", PANEL_TAGS[3], -4.0, 79, 44, 34, 49, False)
model(pd_, D_M159, "b"); model(pd_, D_M318, "p"); model(pd_, D_M476, "r")
rd1 = meas(pd_, D_G159, BLUE); rd2 = meas(pd_, D_G318, PURPLE); rd3 = meas(pd_, D_G476, RED)
legend(pd_, [rd1, rd2, rd3], LEGEND_A, [BLUE_TXT, PURPLE_TXT, RED_TXT])

layout = column(row(pa, pb), row(pc, pd_))
open("out.html", "w").write(file_html(layout, INLINE))
